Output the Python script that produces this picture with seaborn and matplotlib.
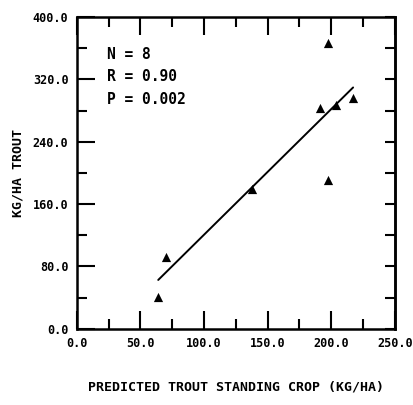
import seaborn as sb
import numpy as np
import pandas as pd
import matplotlib.pyplot as plt

# predicted vs observed trout standing crop (kg/ha)
predicted = [64.0, 70.0, 138.0, 191.5, 197.3, 197.6, 203.6, 217.2]
observed = [41.4, 92.7, 180.0, 283.0, 366.7, 191.0, 287.0, 296.5]
stats_text = ['N = 8', 'R = 0.90', 'P = 0.002']
xticks = [0, 50, 100, 150, 200, 250]
yticks = [0, 80, 160, 240, 320, 400]

df = pd.DataFrame({'pred': predicted, 'obs': observed})

sb.set_style('ticks')
plt.rcParams['font.family'] = ['DejaVu Sans Mono', 'DejaVu Sans']
plt.rcParams['font.weight'] = 'bold'
for k in ['text.color', 'axes.labelcolor', 'xtick.color', 'ytick.color', 'axes.edgecolor']:
    plt.rcParams[k] = 'black'

fig = plt.figure(figsize=(4.13, 4.05), dpi=100)
ax = fig.add_axes([0.186, 0.188, 0.770, 0.770])

sb.regplot(data=df, x='pred', y='obs', ci=None, ax=ax,
           marker='^', scatter_kws={'s': 44, 'color': 'black', 'linewidths': 0, 'alpha': 1},
           line_kws={'color': 'black', 'linewidth': 1.4})

ax.set_xlim(0, 250)
ax.set_ylim(0, 400)
ax.set_xticks(xticks)
ax.set_yticks(yticks)
ax.set_xticklabels(['%.1f' % v for v in xticks], fontsize=8.5, fontweight='bold')
ax.set_yticklabels(['%.1f' % v for v in yticks], fontsize=8.5, fontweight='bold')
ax.set_xticks(np.arange(25, 250, 50), minor=True)
ax.set_yticks(np.arange(40, 400, 80), minor=True)
ax.tick_params(which='major', direction='in', length=13, width=1.5,
               top=True, right=False, pad=6)
ax.tick_params(which='minor', direction='in', length=7, width=1.5,
               top=True, right=False)

# right side: short ticks only
sec = ax.secondary_yaxis('right')
sec.set_yticks(list(yticks) + list(np.arange(40, 400, 80)))
sec.tick_params(direction='in', length=7, width=1.5, labelright=False)
sec.spines['right'].set_linewidth(1.8)

for s in ax.spines.values():
    s.set_linewidth(1.8)
    s.set_visible(True)

ax.set_xlabel('PREDICTED TROUT STANDING CROP (KG/HA)', fontsize=9.5,
              fontweight='bold', labelpad=22)
ax.set_ylabel('KG/HA TROUT', fontsize=9.5, fontweight='bold', labelpad=6)

ax.text(0.095, 0.905, '\n'.join(stats_text), transform=ax.transAxes,
        fontsize=10.5, fontweight='bold', va='top', linespacing=1.65)

fig.savefig('out.png', dpi=100)
